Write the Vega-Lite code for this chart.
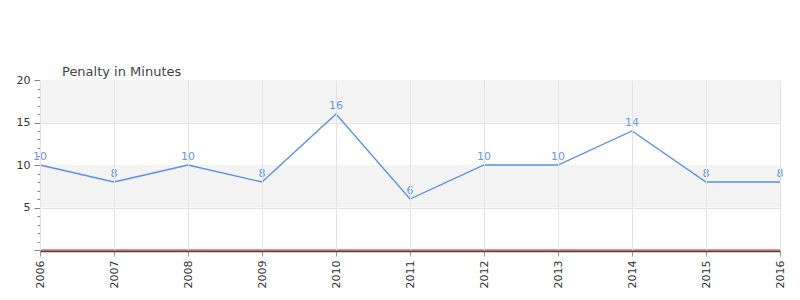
{
  "$schema": "https://vega.github.io/schema/vega-lite/v6.json",
  "autosize": {"type": "none"},
  "width": 740,
  "height": 170,
  "padding": {"left": 40, "top": 80, "right": 20, "bottom": 50},
  "config": {
    "font": "DejaVu Sans",
    "view": {"stroke": null},
    "title": {"font": "DejaVu Sans", "fontSize": 13, "fontWeight": "normal", "color": "#444444", "anchor": "start", "frame": "group", "dx": 22, "offset": -5}
  },
  "title": "Penalty in Minutes",
  "resolve": {"axis": {"y": "independent"}},
  "datasets": {
    "points": [
      {"Year": "2006", "Penalty": 10},
      {"Year": "2007", "Penalty": 8},
      {"Year": "2008", "Penalty": 10},
      {"Year": "2009", "Penalty": 8},
      {"Year": "2010", "Penalty": 16},
      {"Year": "2011", "Penalty": 6},
      {"Year": "2012", "Penalty": 10},
      {"Year": "2013", "Penalty": 10},
      {"Year": "2014", "Penalty": 14},
      {"Year": "2015", "Penalty": 8},
      {"Year": "2016", "Penalty": 8}
    ],
    "bands": [
      {"lo": 5, "hi": 10, "start": "2006", "end": "2016"},
      {"lo": 15, "hi": 20, "start": "2006", "end": "2016"}
    ],
    "base": [
      {"v": 0, "start": "2006", "end": "2016"}
    ]
  },
  "layer": [
    {
      "data": {"name": "bands"},
      "mark": {"type": "rect", "color": "#f3f3f3"},
      "encoding": {
        "x": {"field": "start", "type": "ordinal"},
        "x2": {"field": "end"},
        "y": {"field": "lo", "type": "quantitative", "axis": null},
        "y2": {"field": "hi"}
      }
    },
    {
      "data": {"name": "points"},
      "mark": {"type": "line", "color": "#5b8ee6", "strokeWidth": 1.3},
      "encoding": {
        "x": {
          "field": "Year", "type": "ordinal",
          "scale": {"type": "point", "padding": 0},
          "axis": {
            "title": null, "labelAngle": -90, "labelAlign": "right", "labelBaseline": "middle",
            "labelFontSize": 11, "labelColor": "#333333", "labelPadding": 4, "offset": 1,
            "domainColor": "#444444", "domainWidth": 1.5, "tickColor": "#999999", "tickSize": 5,
            "grid": true, "gridColor": "#e3e3e3"
          }
        },
        "y": {
          "field": "Penalty", "type": "quantitative",
          "scale": {"domain": [0, 20]},
          "axis": {
            "title": null,
            "values": [0,1,2,3,4,5,6,7,8,9,10,11,12,13,14,15,16,17,18,19,20],
            "labelExpr": "datum.value % 5 === 0 && datum.value > 0 ? datum.label : ''",
            "labelOverlap": false,
            "labelFontSize": 11, "labelColor": "#333333", "labelPadding": 4,
            "domainColor": "#888888",
            "tickColor": "#888888",
            "tickSize": {"condition": {"test": "datum.value % 5 === 0", "value": 6}, "value": 3},
            "grid": true, "gridColor": "#e3e3e3",
            "gridOpacity": {"condition": {"test": "datum.value % 5 === 0", "value": 1}, "value": 0}
          }
        }
      }
    },
    {
      "data": {"name": "points"},
      "mark": {"type": "text", "color": "#6b96e0", "fontSize": 11, "dy": -3, "baseline": "bottom"},
      "encoding": {
        "x": {"field": "Year", "type": "ordinal"},
        "y": {"field": "Penalty", "type": "quantitative", "axis": null},
        "text": {"field": "Penalty", "type": "quantitative"}
      }
    },
    {
      "data": {"name": "base"},
      "mark": {"type": "rule", "color": "#e02020", "strokeWidth": 1.2},
      "encoding": {
        "x": {"field": "start", "type": "ordinal"},
        "x2": {"field": "end"},
        "y": {"field": "v", "type": "quantitative", "axis": null}
      }
    }
  ]
}
